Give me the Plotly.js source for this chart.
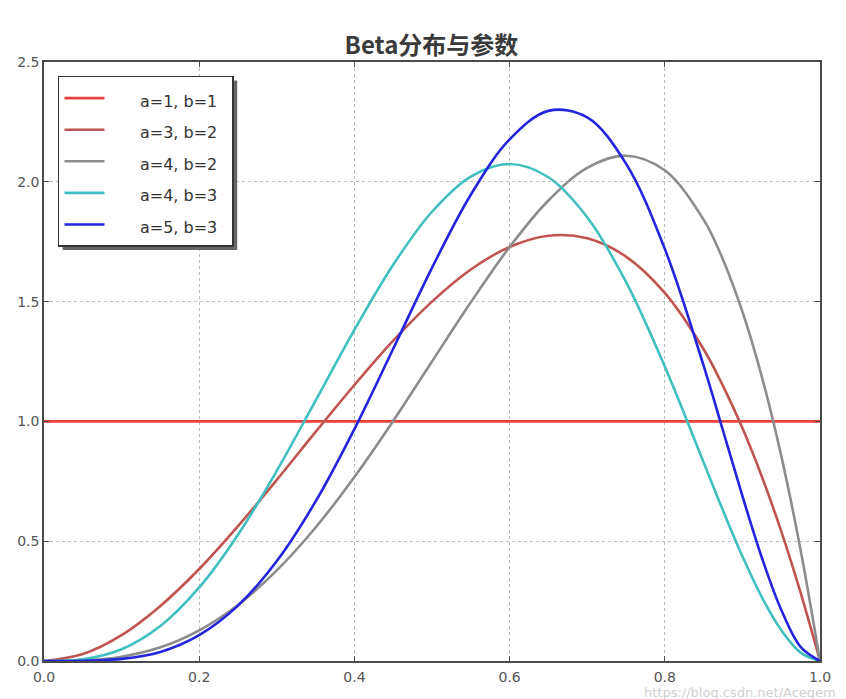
<!DOCTYPE html>
<html>
<head>
<meta charset="utf-8">
<script src="https://cdn.plot.ly/plotly-3.0.1.min.js"></script>
<style>html,body{margin:0;padding:0;background:#fff;}#chart{width:846px;height:699px;}</style>
</head>
<body>
<div id="chart"></div>
<script>
// x positions at which the curves were read
const xs = [0, 0.05, 0.1, 0.15, 0.2, 0.25, 0.3, 0.35, 0.4, 0.45, 0.5, 0.55, 0.6, 0.65, 0.7, 0.75, 0.8, 0.85, 0.875, 0.9, 0.925, 0.95, 0.975, 1.0];
const seriesNames = ["a=1, b=1", "a=3, b=2", "a=4, b=2", "a=4, b=3", "a=5, b=3"];
const yA1B1 = [1, 1, 1, 1, 1, 1, 1, 1, 1, 1, 1, 1, 1, 1, 1, 1, 1, 1, 1, 1, 1, 1, 1, 1];
const yA3B2 = [0, 0.029, 0.108, 0.23, 0.384, 0.563, 0.756, 0.956, 1.152, 1.337, 1.5, 1.634, 1.728, 1.775, 1.764, 1.688, 1.536, 1.301, 1.148, 0.972, 0.770, 0.542, 0.285, 0];
const yA4B2 = [0, 0.002, 0.018, 0.057, 0.128, 0.234, 0.378, 0.557, 0.768, 1.002, 1.25, 1.497, 1.728, 1.922, 2.058, 2.109, 2.048, 1.842, 1.675, 1.458, 1.187, 0.857, 0.463, 0];
const yA4B3 = [0, 0.007, 0.049, 0.146, 0.307, 0.527, 0.794, 1.087, 1.382, 1.654, 1.875, 2.022, 2.074, 2.019, 1.852, 1.582, 1.229, 0.829, 0.628, 0.437, 0.267, 0.129, 0.035, 0];
const yA5B3 = [0, 0.001, 0.009, 0.038, 0.108, 0.231, 0.417, 0.666, 0.968, 1.303, 1.641, 1.946, 2.177, 2.296, 2.269, 2.076, 1.720, 1.233, 0.962, 0.689, 0.432, 0.214, 0.059, 0];
const xTicks = [0, 0.2, 0.4, 0.6, 0.8, 1.0];
const xTickText = ["0.0", "0.2", "0.4", "0.6", "0.8", "1.0"];
const yTicks = [0, 0.5, 1.0, 1.5, 2.0, 2.5];
const yTickText = ["0.0", "0.5", "1.0", "1.5", "2.0", "2.5"];

const colors = ["#e8403a", "#c05450", "#8c8c8c", "#3fbfbf", "#2424dc"];
const ys = [yA1B1, yA3B2, yA4B2, yA4B3, yA5B3];
const pad = "\u00a0\u00a0\u00a0\u00a0\u00a0\u00a0";

const traces = ys.map((y, i) => ({
  x: xs, y: y, type: "scatter", mode: "lines",
  name: '<span style="font-size:16px">' + pad + seriesNames[i] + '\u00a0\u00a0</span>',
  line: {color: colors[i], width: 2.6, shape: i === 0 ? "linear" : "spline", smoothing: 1.0}
}));

const axisCommon = {
  showline: true, linecolor: "#4a4a4a", linewidth: 1.5, mirror: "ticks",
  ticks: "inside", ticklen: 5, tickcolor: "#4a4a4a", tickwidth: 1,
  showgrid: true, gridcolor: "#bdbdbd", griddash: "dot", gridwidth: 1,
  zeroline: false, tickfont: {family: "DejaVu Sans", size: 14, color: "#555"}
};

const layout = {
  width: 846, height: 699,
  margin: {l: 44, r: 26, t: 62, b: 38},
  paper_bgcolor: "#fff", plot_bgcolor: "#fff",
  title: {text: "<b>Beta分布与参数</b>", font: {family: "Noto Sans CJK SC", size: 24, color: "#3a3a3a"},
          x: 0.51, xanchor: "center", y: 0.935, yanchor: "middle", yref: "container"},
  xaxis: Object.assign({}, axisCommon, {range: [0, 1], tickvals: xTicks, ticktext: xTickText, ticklabelstandoff: 2}),
  yaxis: Object.assign({}, axisCommon, {range: [0, 2.5], tickvals: yTicks, ticktext: yTickText}),
  showlegend: true,
  legend: {x: 0.018, y: 0.977, xanchor: "left", yanchor: "top", bgcolor: "#fff",
           bordercolor: "#333", borderwidth: 1.5, itemwidth: 40,
           font: {family: "DejaVu Sans", size: 22, color: "#333"}},
  annotations: [{text: "https://blog.csdn.net/Acegem", xref: "paper", yref: "paper",
                 x: 1.023, y: -0.052, xanchor: "right", yanchor: "middle", showarrow: false,
                 font: {family: "DejaVu Sans", size: 13, color: "#d0d0d0"}}]
};

Plotly.newPlot("chart", traces, layout, {displayModeBar: false}).then(gd => {
  // legend drop shadow, sized from the drawn legend box
  const bg = gd.querySelector(".legend .bg");
  const root = gd.getBoundingClientRect();
  const r = bg.getBoundingClientRect();
  const fs = gd._fullLayout._size;
  const off = 4;
  const px = v => (v - root.left - fs.l) / fs.w;
  const py = v => 1 - (v - root.top - fs.t) / fs.h;
  return Plotly.relayout(gd, {shapes: [{type: "rect", xref: "paper", yref: "paper", layer: "above",
    x0: px(r.left + off), x1: px(r.right + off), y0: py(r.bottom + off), y1: py(r.top + off),
    fillcolor: "#666", line: {width: 0}}]});
});
</script>
</body>
</html>
